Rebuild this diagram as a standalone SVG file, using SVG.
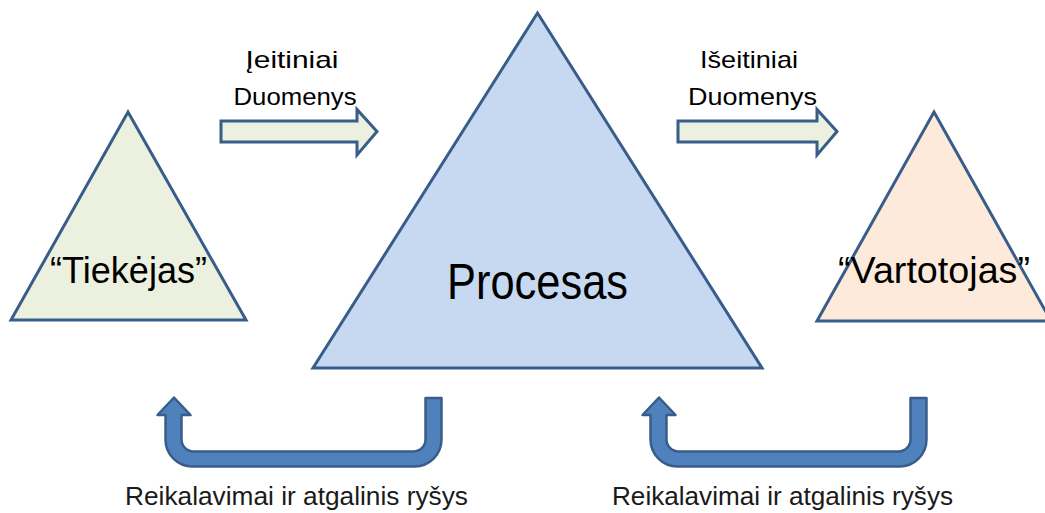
<svg xmlns="http://www.w3.org/2000/svg" width="1045" height="513" viewBox="0 0 1045 513">
<style>
.tri{stroke:#385D8A;stroke-width:3;stroke-linejoin:miter}
.arr{fill:#EBF1DE;stroke:#385D8A;stroke-width:3;stroke-linejoin:miter}
.uarr{fill:#4F81BD;stroke:#385D8A;stroke-width:2.5;stroke-linejoin:round}
text{font-family:"Liberation Sans",Arial,sans-serif;fill:#000}
.lbl{font-size:24px;text-anchor:middle}
.big{font-size:37px;text-anchor:middle}
.bot{font-size:25px;fill:#1a1a1a}
</style>
<defs>
<path id="uShape" d="M174 397.5 L190.5 415 L181.5 415 L181.5 439.5 A12 12 0 0 0 193.5 451.5 L413.5 451.5 A12 12 0 0 0 425.5 439.5 L425.5 398 L441.5 398 L441.5 439.5 A27 27 0 0 1 414.5 466.5 L192.5 466.5 A27 27 0 0 1 165.5 439.5 L165.5 415 L157.5 415 Z"/>
</defs>
<g id="tiekejas">
<polygon class="tri" fill="#EBF1DE" points="128,112 246,320 11,320"/>
<text class="big" x="128.5" y="283" textLength="157" lengthAdjust="spacingAndGlyphs">“Tiekėjas”</text>
</g>
<g id="procesas">
<polygon class="tri" fill="#C6D9F1" points="537.5,13 762,368 313,368"/>
<text x="537.5" y="299" font-size="50" text-anchor="middle" textLength="181" lengthAdjust="spacingAndGlyphs">Procesas</text>
</g>
<g id="vartotojas">
<polygon class="tri" fill="#FDEADA" points="934,112 1051,321 817,321"/>
<text class="big" x="934" y="283" textLength="192" lengthAdjust="spacingAndGlyphs">“Vartotojas”</text>
</g>
<g id="connectors">
<g id="input-arrow">
<polygon class="arr" points="221,121 357,121 357,109.5 377,131.5 357,155 357,142 221,142"/>
<text class="lbl" x="292" y="68" textLength="93" lengthAdjust="spacingAndGlyphs">Įeitiniai</text>
<text class="lbl" x="295" y="105" textLength="123" lengthAdjust="spacingAndGlyphs">Duomenys</text>
</g>
<g id="output-arrow">
<polygon class="arr" points="678,121 817,121 817,109.5 837,131.5 817,155 817,142 678,142"/>
<text class="lbl" x="749" y="68" textLength="98" lengthAdjust="spacingAndGlyphs">Išeitiniai</text>
<text class="lbl" x="752.5" y="105" textLength="129" lengthAdjust="spacingAndGlyphs">Duomenys</text>
</g>
<g id="feedback-left">
<use href="#uShape" class="uarr"/>
<text class="bot" x="125" y="505" textLength="343" lengthAdjust="spacingAndGlyphs">Reikalavimai ir atgalinis ryšys</text>
</g>
<g id="feedback-right">
<use href="#uShape" class="uarr" transform="translate(485,0)"/>
<text class="bot" x="612" y="505" textLength="341" lengthAdjust="spacingAndGlyphs">Reikalavimai ir atgalinis ryšys</text>
</g>
</g>
</svg>
